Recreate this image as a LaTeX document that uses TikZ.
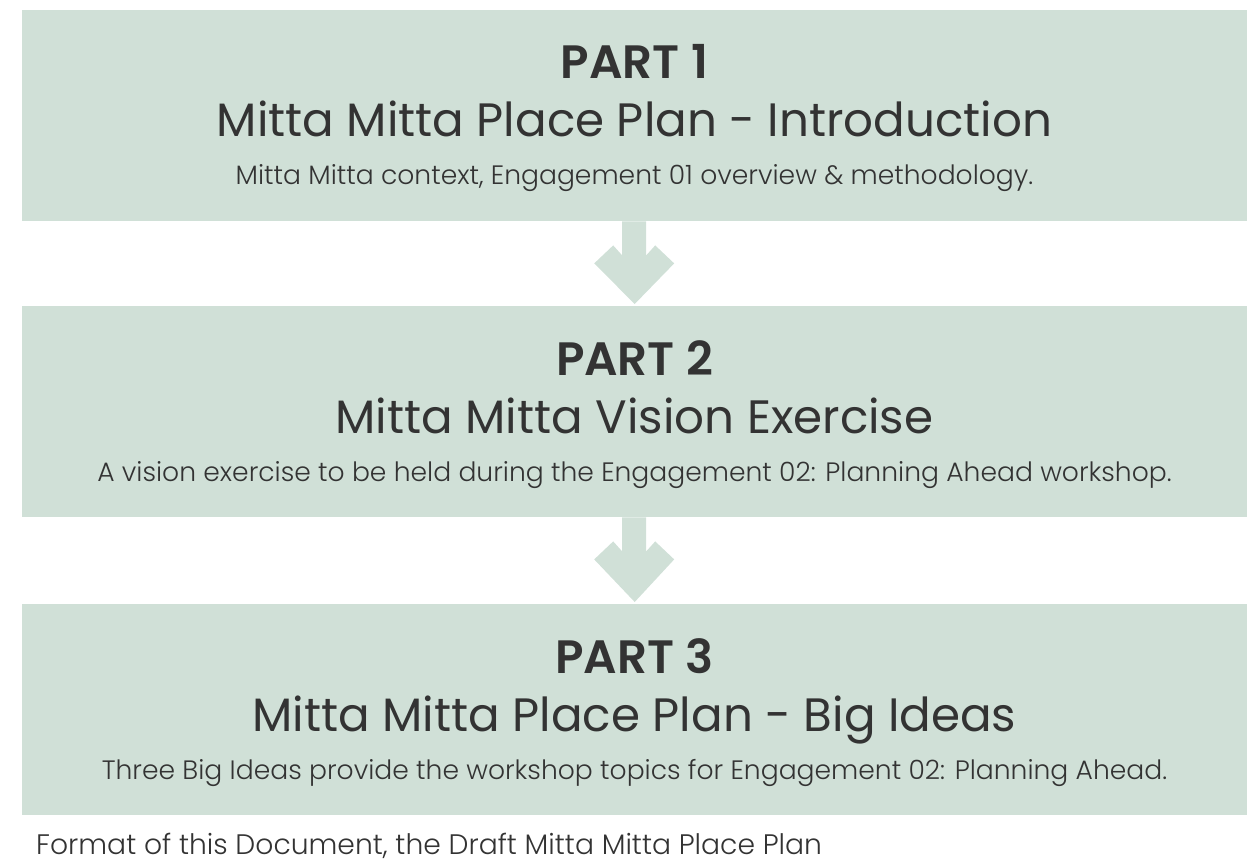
\documentclass[tikz,border=0pt]{standalone}
\usepackage{fontspec}
\setmainfont{Poppins}
\newfontfamily\poplight{Poppins Light}
\newfontfamily\popsemi{Poppins SemiBold}
\usetikzlibrary{calc}
\definecolor{boxfill}{HTML}{D0E0D7}
\definecolor{txt}{HTML}{333333}
\tikzset{
  partbox/.style={fill=boxfill, draw=none, minimum width=1225pt, minimum height=211pt, inner sep=0pt, anchor=north west},
  parttitle/.style={anchor=base, text=txt, font=\fontsize{46.8}{50}\popsemi, inner sep=0pt},
  maintitle/.style={anchor=base, text=txt, font=\fontsize{46.8}{50}\selectfont, inner sep=0pt},
  subtitle/.style={anchor=base, text=txt, font=\fontsize{26.6}{30}\poplight, inner sep=0pt},
  caption/.style={anchor=base west, text=txt, font=\fontsize{28.2}{32}\poplight, inner sep=0pt},
  flowarrow/.style={fill=boxfill, draw=none}
}
\newcommand{\flowarrowpath}[2]{%
  \fill[flowarrow] ($(#1.south)+(-12.5,0)$) -- ++(0,34) -- ++(-9,-10) -- ++(-19,18)
    -- ($(#2.north)+(0,-2)$) -- ($(#1.south)+(39.5,42)$) -- ++(-19,-18) -- ++(-9,10) -- ++(0,-34) -- cycle;}
\begin{document}
\begin{tikzpicture}[x=1pt,y=-1pt]
\useasboundingbox (0,0) rectangle (1258,861);
\node[partbox] (b1) at (22,10) {};
\node[partbox] (b2) at (22,306) {};
\node[partbox] (b3) at (22,604) {};
\node[parttitle] (p1) at (634.5,79) {PART 1};
\node[maintitle] (t1) at (634.5,137) {Mitta Mitta Place Plan - Introduction};
\node[subtitle] (s1) at (634.5,185) {Mitta Mitta context, Engagement 01 overview \& methodology.};
\node[parttitle] (p2) at (634.5,375) {PART 2};
\node[maintitle] (t2) at (634.5,433) {Mitta Mitta Vision Exercise};
\node[subtitle] (s2) at (634.5,481) {A vision exercise to be held during the Engagement 02: Planning Ahead workshop.};
\node[parttitle] (p3) at (634.5,673) {PART 3};
\node[maintitle] (t3) at (634.5,731) {Mitta Mitta Place Plan - Big Ideas};
\node[subtitle] (s3) at (634.5,779) {Three Big Ideas provide the workshop topics for Engagement 02: Planning Ahead.};
\node[caption] (cap) at (36,854.5) {Format of this Document, the Draft Mitta Mitta Place Plan};
\flowarrowpath{b1}{b2}
\flowarrowpath{b2}{b3}
\end{tikzpicture}
\end{document}
